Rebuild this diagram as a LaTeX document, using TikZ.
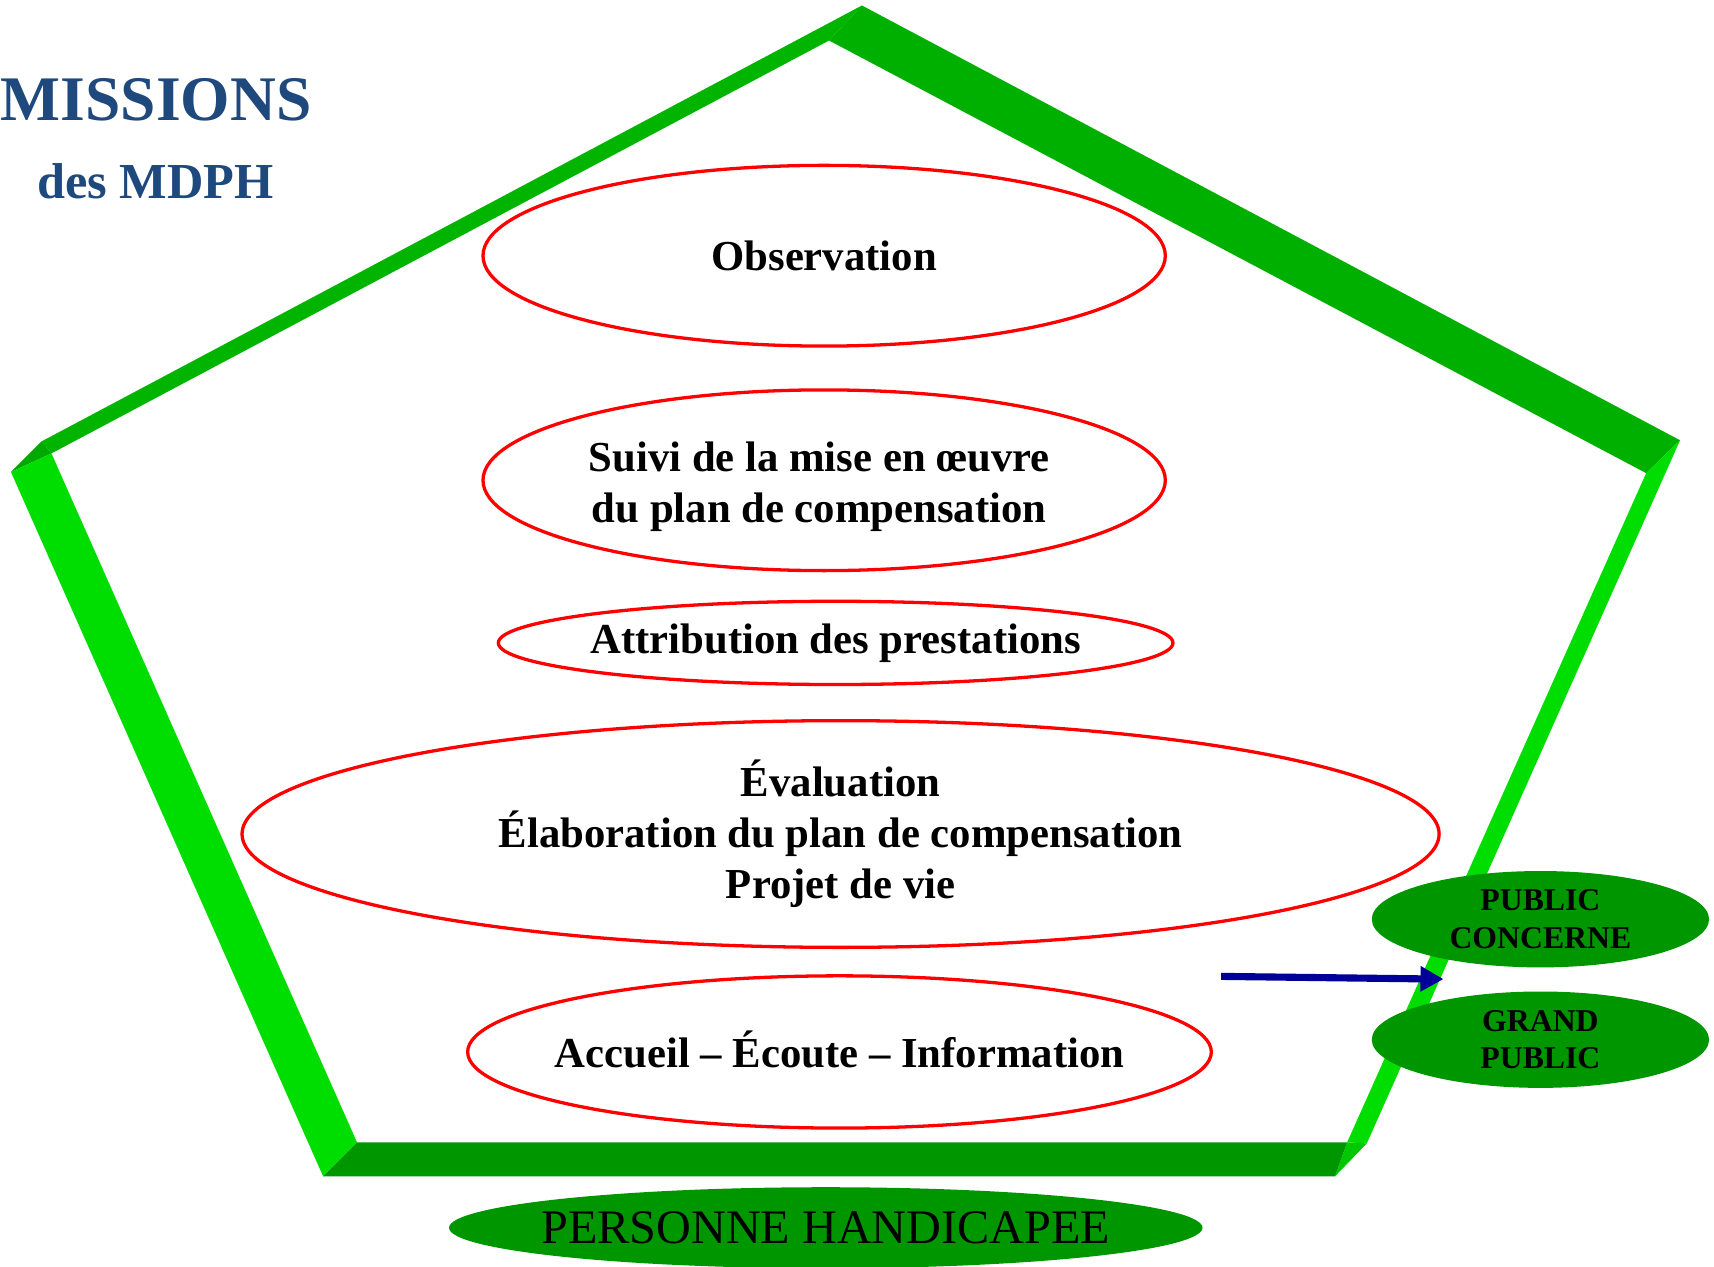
\documentclass[tikz,border=0pt]{standalone}
\usepackage{fontspec}
\setmainfont{Liberation Serif}
\usetikzlibrary{shapes.geometric,arrows.meta}
\definecolor{titleblue}{HTML}{1F497D}
\definecolor{faceTL}{HTML}{00B400}
\definecolor{faceTR}{HTML}{00B000}
\definecolor{faceSide}{HTML}{00DD00}
\definecolor{faceBot}{HTML}{009600}
\definecolor{bevelL}{HTML}{00A800}
\definecolor{bevelR}{HTML}{00C800}
\definecolor{ellgreen}{HTML}{009600}
\definecolor{arrowblue}{HTML}{000099}
\newcommand{\zw}[1]{\makebox[0pt][c]{#1}}
\begin{document}
\begin{tikzpicture}[x=1pt,y=-1pt,
  redell/.style={draw=red, line width=3pt, ellipse, inner sep=0pt, align=center,
                 font=\fontsize{39}{46.5}\selectfont\bfseries},
  bigtext/.style={inner sep=0pt, align=center, font=\fontsize{39}{46.5}\selectfont\bfseries},
  greenell/.style={fill=ellgreen, ellipse, inner sep=0pt, align=center},
  smallgreen/.style={greenell, minimum width=308pt, minimum height=88pt,
                 font=\fontsize{29}{34.5}\selectfont\bfseries},
  titletext/.style={text=titleblue, inner sep=0pt},
  bluearrow/.style={draw=arrowblue, line width=6.5pt,
                 -{Triangle[length=21pt,width=22pt]}}
]
\useasboundingbox (0,0) rectangle (1565,1156);

% pentagon frame points
\coordinate (Ao) at (787,5);
\coordinate (Ai) at (757,37);
\coordinate (Ro) at (1534,402);
\coordinate (Ri) at (1503,432);
\coordinate (BRo1) at (1248,1044);
\coordinate (BRo2) at (1219,1074);
\coordinate (BRi) at (1230,1043);
\coordinate (BLo) at (295,1074);
\coordinate (BLi) at (326,1043);
\coordinate (Lo1) at (10,431);
\coordinate (Lo2) at (38,403);
\coordinate (Li) at (47,414);

% faces
\fill[faceTL] (Lo2) -- (Ao) -- (Ai) -- (Li) -- cycle;
\fill[bevelL] (Lo1) -- (Lo2) -- (Li) -- cycle;
\fill[faceTR] (Ao) -- (Ro) -- (Ri) -- (Ai) -- cycle;
\fill[faceSide] (Ro) -- (BRo1) -- (BRi) -- (Ri) -- cycle;
\fill[bevelR] (BRo1) -- (BRo2) -- (BRi) -- cycle;
\fill[faceBot] (BLo) -- (BLi) -- (BRi) -- (BRo2) -- cycle;
\fill[faceSide] (Lo1) -- (Li) -- (BLi) -- (BLo) -- cycle;

% title
\node[titletext, anchor=base west, font=\fontsize{58}{58}\selectfont\bfseries] (title1) at (0.5,109.6) {MISSIONS};
\node[titletext, anchor=base, font=\fontsize{46}{46}\selectfont\bfseries] (title2) at (142,181) {des MDPH};

% red ellipses
\node[redell, minimum width=623pt, minimum height=165pt] (obs) at (752.5,233.5) {Observation};
\node[redell, minimum width=623pt, minimum height=165pt] (suivi) at (752.5,438.5) {};
\node[bigtext] (suivitext) at (748,444) {Suivi de la mise en œuvre\\du plan de compensation};
\node[redell, minimum width=616pt, minimum height=76pt] (attr) at (763,587) {\zw{Attribution des prestations}};
\node[redell, minimum width=1093pt, minimum height=207pt] (eval) at (767.5,761.5) {Évaluation\\Élaboration du plan de compensation\\Projet de vie};
\node[redell, minimum width=679pt, minimum height=139pt] (accueil) at (766.5,960.5) {};
\node[bigtext] (accueiltext) at (766.5,958) {Accueil – Écoute – Information};

% green ellipses
\node[smallgreen] (pc) at (1406.5,839.3) {PUBLIC\\CONCERNE};
\node[smallgreen] (gp) at (1406.5,949.3) {GRAND\\PUBLIC};
\node[greenell, minimum width=688pt, minimum height=74pt, font=\fontsize{44}{44}\selectfont] (ph) at (754,1121) {\zw{PERSONNE HANDICAPEE}};

% arrow
\coordinate (astart) at (1115,891.5);
\coordinate (aend) at (1318,894);
\draw[bluearrow] (astart) -- (aend);
\end{tikzpicture}
\end{document}
